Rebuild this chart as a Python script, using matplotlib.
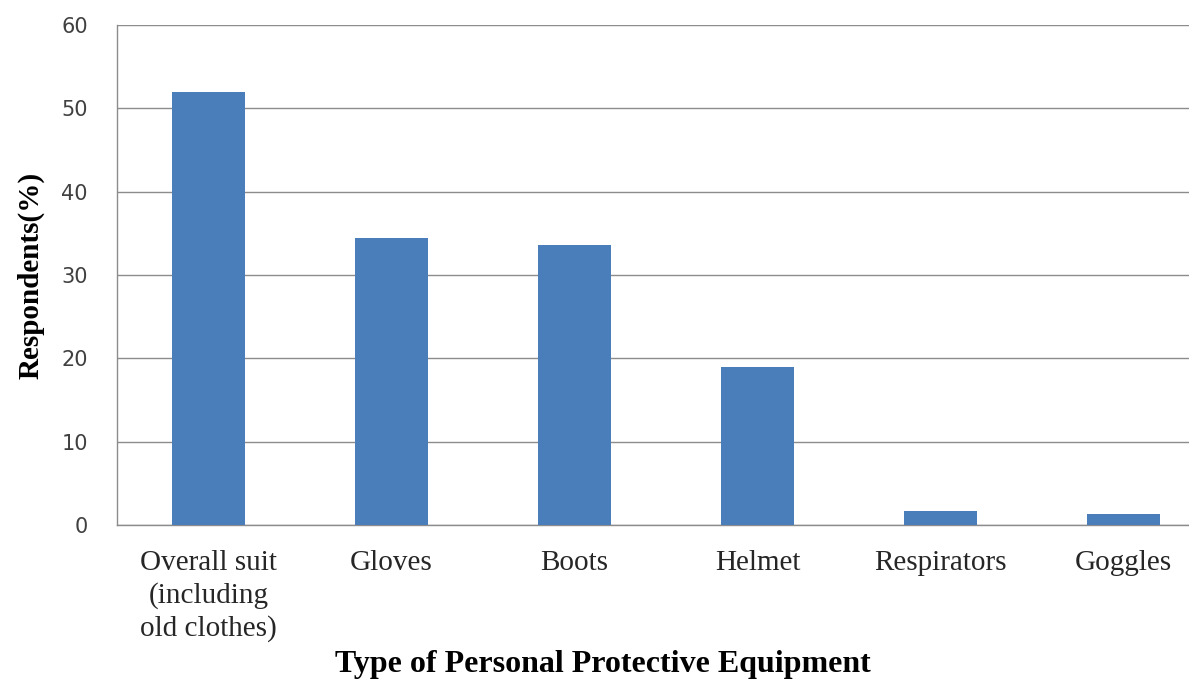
import numpy as np
import matplotlib.pyplot as plt

# Share of respondents using each type of PPE
categories = ["Overall suit\n(including\nold clothes)", "Gloves", "Boots",
              "Helmet", "Respirators", "Goggles"]
respondents = [52.0, 34.5, 33.6, 19.0, 1.7, 1.3]
y_ticks = [0, 10, 20, 30, 40, 50, 60]

fig = plt.figure(figsize=(11.89, 6.79), dpi=100)
# plot area runs a little past the right edge, as in the cropped original
ax = fig.add_axes([117 / 1189, 1 - 525 / 679, 1098 / 1189, 500 / 679])

x = np.arange(len(categories))
ax.bar(x, respondents, width=0.4, color="#4a7ebb", zorder=3)

ax.set_xlim(-0.5, len(categories) - 0.5)
ax.set_ylim(0, 60)
ax.set_yticks(y_ticks)
ax.yaxis.grid(True, color="#8c8c8c", linewidth=1.0, zorder=0)
ax.set_axisbelow(True)

for side in ["top", "right"]:
    ax.spines[side].set_visible(False)
for side in ["left", "bottom"]:
    ax.spines[side].set_color("#8c8c8c")
    ax.spines[side].set_linewidth(1.0)

ax.set_xticks(x)
ax.set_xticklabels(categories, family="Liberation Serif", fontsize=21,
                   color="#262626", linespacing=1.3)
ax.tick_params(axis="x", length=0, pad=18)
ax.tick_params(axis="y", length=0, pad=21, labelsize=15, labelcolor="#404040")

ax.set_ylabel("Respondents(%)", family="Liberation Serif", fontweight="bold",
              fontsize=21, ha="center", va="center")
ax.yaxis.set_label_coords(-0.0783, 0.5)
ax.set_xlabel("Type of Personal Protective Equipment", family="Liberation Serif",
              fontweight="bold", fontsize=23, va="center")
ax.xaxis.set_label_coords(0.4426, -0.279)

fig.savefig("out.png", dpi=100)
